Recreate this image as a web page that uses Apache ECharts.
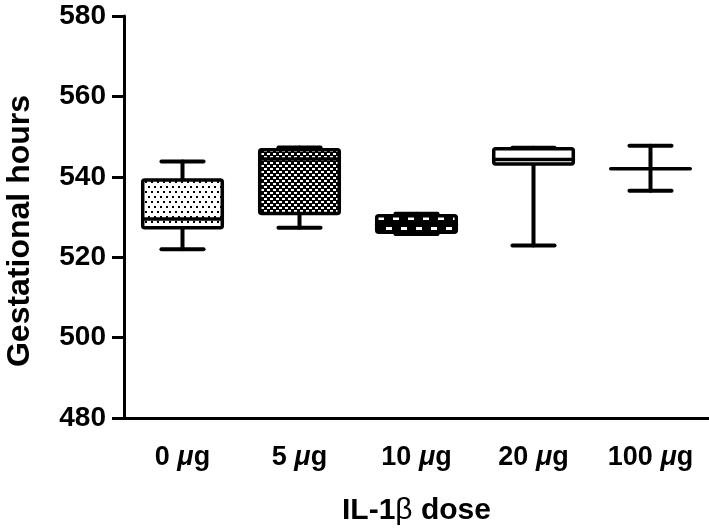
<!DOCTYPE html>
<html>
<head>
<meta charset="utf-8">
<script src="https://cdn.jsdelivr.net/npm/echarts@6/dist/echarts.min.js"></script>
<style>
  html, body { margin: 0; padding: 0; background: #fff; }
  #chart { width: 709px; height: 528px; }
</style>
</head>
<body>
<div id="chart"></div>
<script>
// IL-1beta dose groups
const categories = ['0', '5', '10', '20', '100'];
const whiskerLow = [522.0, 527.3, 525.8, 522.9, 536.5];
const q1 = [527.3, 530.9, 526.2, 543.2, 542.0];
const median = [529.5, 544.4, 528.2, 544.3, 542.0];
const q3 = [539.2, 546.7, 530.3, 547.0, 542.0];
const whiskerHigh = [543.8, 547.3, 530.8, 547.2, 547.7];
const yTicks = [480, 500, 520, 540, 560, 580];

// fill style of each box
const boxFills = ['dots', 'checker', 'dashes', 'white', 'none'];

const font = "'Liberation Sans', Arial, sans-serif";

function makePattern(kind) {
  let c = document.createElement('canvas');
  let ctx;
  if (kind === 'dots') {
    c.width = 6; c.height = 10;
    ctx = c.getContext('2d');
    ctx.fillStyle = '#fff'; ctx.fillRect(0, 0, 6, 10);
    ctx.fillStyle = '#000';
    ctx.fillRect(1, 1, 2, 2);
    ctx.fillRect(4, 6, 2, 2);
  } else if (kind === 'checker') {
    c.width = 6; c.height = 6;
    ctx = c.getContext('2d');
    ctx.fillStyle = '#000'; ctx.fillRect(0, 0, 6, 6);
    ctx.fillStyle = '#fff';
    ctx.fillRect(0, 0, 3, 2);
    ctx.fillRect(3, 3, 3, 2);
  } else if (kind === 'dashes') {
    c.width = 15; c.height = 20;
    ctx = c.getContext('2d');
    ctx.fillStyle = '#000'; ctx.fillRect(0, 0, 15, 20);
    ctx.fillStyle = '#fff';
    ctx.fillRect(3, 17, 6, 3);
    ctx.fillRect(11, 7, 4, 3);
    ctx.fillRect(0, 7, 2, 3);
  }
  return { image: c, repeat: 'repeat' };
}

const fills = {
  dots: makePattern('dots'),
  checker: makePattern('checker'),
  dashes: makePattern('dashes'),
  white: '#fff',
  none: 'none'
};

const boxData = categories.map((c, i) => [i, whiskerLow[i], q1[i], median[i], q3[i], whiskerHigh[i]]);

function renderBox(params, api) {
  let i = api.value(0);
  let pMin = api.coord([i, api.value(1)]);
  let pQ1 = api.coord([i, api.value(2)]);
  let pMed = api.coord([i, api.value(3)]);
  let pQ3 = api.coord([i, api.value(4)]);
  let pMax = api.coord([i, api.value(5)]);
  let band = api.size([1, 0])[0];
  let half = band * 0.34;
  let cap = band * 0.18;
  let x = pMed[0];
  let lineStyle = { stroke: '#000', lineWidth: 4, lineCap: 'round' };
  let children = [
    { type: 'line', shape: { x1: x, y1: pMin[1], x2: x, y2: pQ1[1] }, style: lineStyle },
    { type: 'line', shape: { x1: x, y1: pQ3[1], x2: x, y2: pMax[1] }, style: lineStyle },
    { type: 'line', shape: { x1: x - cap, y1: pMin[1], x2: x + cap, y2: pMin[1] }, style: lineStyle },
    { type: 'line', shape: { x1: x - cap, y1: pMax[1], x2: x + cap, y2: pMax[1] }, style: lineStyle }
  ];
  let fill = fills[boxFills[params.dataIndex]];
  if (pQ1[1] - pQ3[1] > 0.5) {
    children.push({
      type: 'rect',
      shape: { x: x - half, y: pQ3[1], width: half * 2, height: pQ1[1] - pQ3[1], r: 2 },
      style: { fill: fill, stroke: '#000', lineWidth: 3.5 }
    });
  }
  children.push({
    type: 'line',
    shape: { x1: x - half, y1: pMed[1], x2: x + half, y2: pMed[1] },
    style: { stroke: '#000', lineWidth: 3.5, lineCap: 'round' }
  });
  return { type: 'group', children: children };
}

const chart = echarts.init(document.getElementById('chart'), null, { renderer: 'canvas' });
chart.setOption({
  animation: false,
  backgroundColor: '#fff',
  grid: { left: 124, right: 0, top: 16, bottom: 110, outerBoundsMode: 'none', containLabel: false },
  xAxis: [
    {
      type: 'category',
      data: categories,
      axisLine: { lineStyle: { color: '#000', width: 3 } },
      axisTick: { show: false },
      axisLabel: { show: false },
      splitLine: { show: false }
    },
    {
      type: 'category',
      data: categories,
      position: 'bottom',
      offset: 4,
      axisLine: { show: false },
      axisTick: { length: 11, lineStyle: { color: '#000', width: 3 } },
      axisLabel: {
        interval: 0,
        hideOverlap: false,
        margin: 22,
        formatter: v => '{n|' + v + ' }{u|μ}{n|g}',
        rich: {
          n: { fontFamily: font, fontWeight: 'bold', fontSize: 27, color: '#000' },
          u: { fontFamily: font, fontWeight: 'bold', fontStyle: 'italic', fontSize: 27, color: '#000' }
        }
      },
      name: '{b|IL-1}{s|β}{b| dose}',
      nameLocation: 'middle',
      nameGap: 74,
      nameTextStyle: {
        rich: {
          b: { fontFamily: font, fontWeight: 'bold', fontSize: 30, color: '#000' },
          s: { fontFamily: font, fontWeight: 'normal', fontSize: 30, color: '#000' }
        }
      }
    }
  ],
  yAxis: {
    type: 'value',
    min: yTicks[0],
    max: yTicks[yTicks.length - 1],
    interval: 20,
    axisLine: { show: true, lineStyle: { color: '#000', width: 3 } },
    axisTick: { show: true, length: 12, lineStyle: { color: '#000', width: 3 } },
    axisLabel: { margin: 18, fontFamily: font, fontWeight: 'bold', fontSize: 28, color: '#000' },
    splitLine: { show: false },
    name: 'Gestational hours',
    nameLocation: 'middle',
    nameGap: 88,
    nameRotate: 90,
    nameTextStyle: { fontFamily: font, fontWeight: 'bold', fontSize: 32, color: '#000', padding: [0, 28, 0, 0] }
  },
  series: [
    {
      type: 'custom',
      xAxisIndex: 0,
      renderItem: renderBox,
      encode: { x: 0, y: [1, 2, 3, 4, 5] },
      data: boxData,
      z: 5
    }
  ]
});
</script>
</body>
</html>
